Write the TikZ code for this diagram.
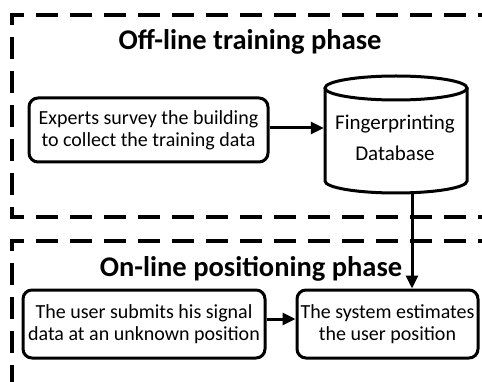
\documentclass[tikz,border=0pt]{standalone}
\usepackage{fontspec}
\setmainfont{Carlito}
\usetikzlibrary{arrows.meta}
\tikzset{
  phasebox/.style={line width=3.2pt, dash pattern=on 22pt off 12pt},
  stepbox/.style={draw, line width=3pt, rounded corners=9pt, align=center, inner sep=0pt, font=\fontsize{20}{22}\selectfont},
  phasetitle/.style={font=\bfseries\fontsize{28.5}{30}\selectfont},
  flow/.style={line width=3pt, -{Triangle[length=13pt,width=12pt]}}
}

\begin{document}
\begin{tikzpicture}[x=1pt,y=-1pt]
\useasboundingbox (0,0) rectangle (482,382);
\clip (0,0) rectangle (482,382);
% phase frames
\draw[phasebox] (500,15) -- (12,15) -- (12,217) -- (500,217);
\draw[phasebox] (500,241) -- (12,241) -- (12,400);
\node[phasetitle] (offline) at (250,42) {Off-line training phase};
\node[phasetitle] (online) at (251,269) {On-line positioning phase};
% off-line
\node[stepbox, minimum width=239pt, minimum height=64pt] (survey) at (148.5,130) {Experts survey the building\\to collect the training data};
\node[align=center, inner sep=0pt, minimum width=142pt, minimum height=100pt, font=\fontsize{21}{22}\selectfont] (db) at (395,138) {Fingerprinting\\[9pt]Database};
\draw[line width=3pt] (396,88) ellipse[x radius=71, y radius=12];
\draw[line width=3pt] (325,88) -- (325,181) arc[start angle=180, end angle=0, x radius=71, y radius=12] -- (467,88);
\coordinate (dbout) at (412,193);
% on-line
\node[stepbox, minimum width=242pt, minimum height=68pt] (submit) at (144,324) {The user submits his signal\\data at an unknown position};
\node[stepbox, minimum width=181pt, minimum height=68pt] (estimate) at (387.5,324) {The system estimates\\the user position};
% arrows
\draw[flow] ([yshift=2pt]survey.east) -- ([yshift=2pt]survey.east -| db.west);
\draw[flow] (dbout) -- (dbout |- estimate.north);
\draw[flow] ([yshift=5pt]submit.east) -- ([yshift=5pt]submit.east -| estimate.west);
\end{tikzpicture}
\end{document}
